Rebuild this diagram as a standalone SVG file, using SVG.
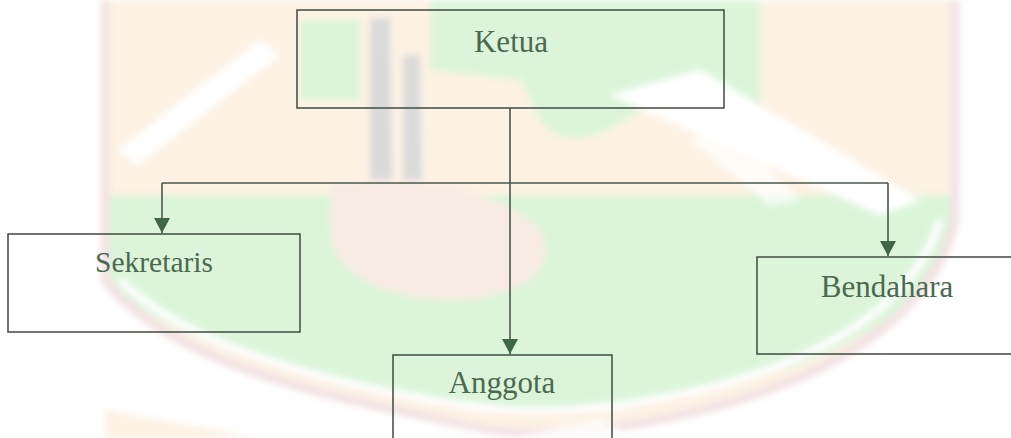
<svg xmlns="http://www.w3.org/2000/svg" width="1011" height="438" viewBox="0 0 1011 438">
<defs>
<style>
.box{fill:none;stroke:#4a544b;stroke-width:1.6}
.lbl{font-family:"Liberation Serif","Times New Roman",serif;font-size:31px;fill:#4a6a50;text-anchor:middle}
.conn{fill:none;stroke:#4a574c;stroke-width:1.6}
</style>
<marker id="arr" markerUnits="userSpaceOnUse" markerWidth="16" markerHeight="16" viewBox="0 0 16 16" refX="15" refY="8" orient="auto">
<path d="M0,0 L15,8 L0,16 Z" fill="#3f6648"/>
</marker>
<filter id="soft" x="-5%" y="-5%" width="110%" height="110%"><feGaussianBlur stdDeviation="3"/></filter>
</defs>
<rect width="1011" height="438" fill="#ffffff"/>
<g id="watermark" filter="url(#soft)">
<path d="M105,0 L955,0 L955,220 C930,330 800,400 610,428 C520,440 480,430 420,415 C260,385 150,340 105,280 Z" fill="#fdf2e4"/>
<path d="M105,195 L955,195 L955,220 C930,330 800,380 620,405 C520,415 470,405 420,395 C260,365 150,330 105,280 Z" fill="#dcf5da"/>
<path d="M290,0 L760,0 L760,120 L640,110 C600,140 560,150 540,120 L520,80 L430,70 L430,0 Z" fill="#dcf5da"/>
<path d="M300,20 L360,20 L360,100 L300,100 Z" fill="#dcf5da"/>
<path d="M330,185 C420,175 500,190 540,230 C560,270 520,300 450,300 C380,300 330,270 330,230 Z" fill="#f7ebe3"/>
<path d="M118,150 L260,40 L280,55 L138,165 Z" fill="#ffffff"/>
<path d="M610,95 L700,70 L920,200 L880,215 Z" fill="#ffffff"/>
<path d="M690,140 L720,120 L800,200 L770,205 Z" fill="#ffffff" opacity="0.7"/>
<path d="M370,18 L390,18 L392,180 L370,180 Z" fill="#dadada"/>
<path d="M403,55 L420,55 L422,180 L403,180 Z" fill="#dadada"/>
<path d="M105,0 L105,280 C150,340 260,385 420,415 C480,430 520,440 610,428 C800,400 930,330 955,220 L955,0" fill="none" stroke="#f3e2e4" stroke-width="9"/>
<path d="M120,280 C170,330 270,370 420,398 C500,412 540,415 620,405 C790,380 910,320 940,220" fill="none" stroke="#ffffff" stroke-width="7"/>
<path d="M105,410 L260,438 L105,438 Z" fill="#fdf2e4"/>
<path d="M420,420 L510,438 L600,420 L640,438 L380,438 Z" fill="#ffffff" opacity="0.8"/>
</g>
<g id="connectors">
<path class="conn" d="M510,108 L510,354" marker-end="url(#arr)"/>
<path class="conn" d="M162,183 L888,183"/>
<path class="conn" d="M162,183 L162,233" marker-end="url(#arr)"/>
<path class="conn" d="M888,183 L888,256" marker-end="url(#arr)"/>
</g>
<g id="node-ketua">
<rect class="box" x="297" y="10" width="427" height="98"/>
<text class="lbl" x="511" y="52">Ketua</text>
</g>
<g id="node-sekretaris">
<rect class="box" x="8" y="234" width="292" height="98"/>
<text class="lbl" x="154" y="272" style="font-size:29.5px">Sekretaris</text>
</g>
<g id="node-bendahara">
<rect class="box" x="757" y="257" width="260" height="97"/>
<text class="lbl" x="887" y="297">Bendahara</text>
</g>
<g id="node-anggota">
<rect class="box" x="393" y="355" width="219" height="90"/>
<text class="lbl" x="502" y="393">Anggota</text>
</g>
</svg>
